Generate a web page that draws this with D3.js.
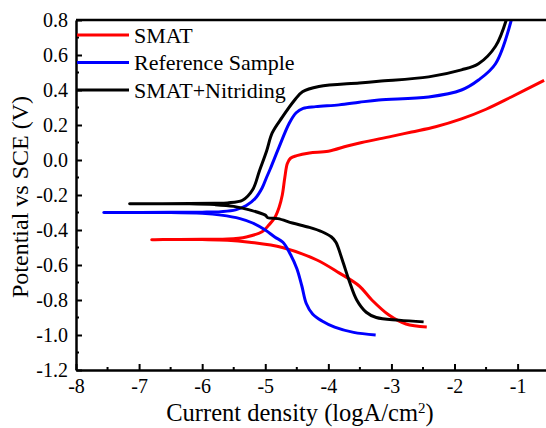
<!DOCTYPE html>
<html lang="en">
	<head>
		<meta charset="utf-8">
		<title>Polarization curves</title>
		<script type="text/javascript" src="https://cdn.jsdelivr.net/npm/d3@7"></script>
		<style type="text/css">
			html, body {
				margin: 0;
				padding: 0;
				background-color: white;
			}
			text {
				font-family: "Liberation Serif", "Times New Roman", serif;
			}
		</style>
	</head>
	<body>
		<script type="text/javascript">

			//Series names and colours
			var seriesNames = ["SMAT", "Reference Sample", "SMAT+Nitriding"];
			var seriesColors = ["rgb(255,0,0)", "rgb(0,0,255)", "rgb(0,0,0)"];

			//Each curve: [logI, E], cathodic end -> Ecorr -> anodic end
			var smat = [
				[-2.44,-0.954],[-2.77,-0.937],[-3.04,-0.886],[-3.31,-0.80],[-3.51,-0.72],[-3.83,-0.645],
				[-4.19,-0.57],[-4.73,-0.50],[-5.25,-0.47],[-5.6,-0.458],[-6.0,-0.455],[-6.8,-0.455],
				[-6.0,-0.453],[-5.6,-0.452],[-5.3,-0.44],[-5.05,-0.41],[-4.94,-0.37],[-4.85,-0.33],
				[-4.78,-0.27],[-4.73,-0.2],[-4.69,-0.1],[-4.65,-0.02],[-4.6,0.01],[-4.5,0.025],
				[-4.3,0.04],[-4.0,0.05],[-3.7,0.08],[-3.47,0.10],[-3.0,0.135],[-2.68,0.16],
				[-2.3,0.19],[-1.89,0.235],[-1.5,0.29],[-1.1,0.36],[-0.58,0.455]
			];
			var reference = [
				[-3.25,-1.0],[-3.6,-0.985],[-3.9,-0.955],[-4.1,-0.92],[-4.25,-0.88],[-4.35,-0.82],
				[-4.42,-0.72],[-4.5,-0.62],[-4.6,-0.54],[-4.72,-0.47],[-4.85,-0.44],[-5.0,-0.40],
				[-5.2,-0.36],[-5.4,-0.335],[-5.7,-0.315],[-6.0,-0.305],[-6.5,-0.30],[-7.56,-0.30],
				[-6.5,-0.299],[-6.0,-0.298],[-5.7,-0.295],[-5.47,-0.285],[-5.3,-0.26],[-5.16,-0.22],
				[-5.05,-0.16],[-4.98,-0.10],[-4.92,-0.05],[-4.78,0.075],[-4.62,0.21],[-4.51,0.27],
				[-4.4,0.295],[-4.2,0.305],[-3.83,0.315],[-3.51,0.33],[-3.2,0.343],[-2.41,0.36],
				[-1.89,0.40],[-1.62,0.457],[-1.35,0.55],[-1.1,0.8]
			];
			var nitriding = [
				[-2.49,-0.925],[-2.88,-0.915],[-3.24,-0.90],[-3.4,-0.87],[-3.55,-0.80],[-3.67,-0.69],
				[-3.78,-0.57],[-3.88,-0.47],[-3.95,-0.44],[-4.1,-0.41],[-4.3,-0.385],[-4.57,-0.36],
				[-4.8,-0.335],[-4.96,-0.33],[-5.0,-0.315],[-5.25,-0.285],[-5.5,-0.265],[-5.8,-0.255],
				[-6.2,-0.25],[-7.15,-0.25],[-6.2,-0.249],[-5.8,-0.247],[-5.6,-0.245],[-5.36,-0.23],
				[-5.2,-0.17],[-5.09,-0.06],[-4.98,0.05],[-4.89,0.155],[-4.73,0.245],[-4.54,0.34],
				[-4.41,0.39],[-4.15,0.42],[-3.51,0.44],[-3.2,0.45],[-2.41,0.475],[-1.89,0.515],
				[-1.62,0.55],[-1.35,0.65],[-1.18,0.8]
			];
			var seriesData = [smat, reference, nitriding];

			//Tick values
			var xTicks = [-8, -7, -6, -5, -4, -3, -2, -1];
			var yTicks = [-1.2, -1.0, -0.8, -0.6, -0.4, -0.2, 0.0, 0.2, 0.4, 0.6, 0.8];

			//Width and height, plot box
			var w = 546;
			var h = 428;
			var pLeft = 76, pTop = 20, pBottom = 370, pRight = 546;

			var x = d3.scaleLinear().domain([-8, -0.55]).range([pLeft, pRight]);
			var y = d3.scaleLinear().domain([-1.2, 0.8]).range([pBottom, pTop]);

			var svg = d3.select("body")
						.append("svg")
						.attr("width", w)
						.attr("height", h);

			svg.append("clipPath")
				.attr("id", "plot")
				.append("rect")
				.attr("x", pLeft)
				.attr("y", pTop)
				.attr("width", pRight - pLeft)
				.attr("height", pBottom - pTop);

			//Curves
			var line = d3.line()
						 .x(function(d) { return x(d[0]); })
						 .y(function(d) { return y(d[1]); })
						 .curve(d3.curveCatmullRom.alpha(0.5));

			svg.append("g")
				.attr("clip-path", "url(#plot)")
				.selectAll("path")
				.data(seriesData)
				.enter()
				.append("path")
				.attr("d", line)
				.attr("fill", "none")
				.attr("stroke", function(d, i) { return seriesColors[i]; })
				.attr("stroke-width", 3)
				.attr("stroke-linejoin", "round");

			//Minor ticks
			var minorX = d3.range(-7.5, -0.5, 1);
			var minorY = d3.range(-1.1, 0.8, 0.2);
			svg.selectAll("line.mx")
				.data(minorX)
				.enter()
				.append("line")
				.attr("x1", function(d) { return x(d); })
				.attr("x2", function(d) { return x(d); })
				.attr("y1", pBottom)
				.attr("y2", pBottom - 3)
				.attr("stroke", "black")
				.attr("stroke-width", 2);
			svg.selectAll("line.my")
				.data(minorY)
				.enter()
				.append("line")
				.attr("y1", function(d) { return y(d); })
				.attr("y2", function(d) { return y(d); })
				.attr("x1", pLeft)
				.attr("x2", pLeft + 3)
				.attr("stroke", "black")
				.attr("stroke-width", 2);

			//Axes
			svg.append("g")
				.attr("transform", "translate(0," + pBottom + ")")
				.call(d3.axisBottom(x)
					.tickValues(xTicks)
					.tickFormat(function(d) { return String(d); })
					.tickSizeInner(-6)
					.tickSizeOuter(0)
					.tickPadding(9));

			svg.append("g")
				.attr("transform", "translate(" + pLeft + ",0)")
				.call(d3.axisLeft(y)
					.tickValues(yTicks)
					.tickFormat(function(d) { return d.toFixed(1); })
					.tickSizeInner(-6)
					.tickSizeOuter(0)
					.tickPadding(8));

			svg.selectAll(".tick text")
				.attr("font-family", "Liberation Serif")
				.attr("font-size", "20px")
				.attr("fill", "black");
			svg.selectAll(".tick line").attr("stroke-width", 2);
			svg.selectAll(".domain").attr("stroke-width", 2.5);

			//Top frame line
			svg.append("line")
				.attr("x1", pLeft)
				.attr("x2", pRight)
				.attr("y1", pTop)
				.attr("y2", pTop)
				.attr("stroke", "black")
				.attr("stroke-width", 2.5);

			//Axis titles
			var xTitle = svg.append("text")
				.attr("x", 300)
				.attr("y", 421)
				.attr("text-anchor", "middle")
				.attr("font-size", "24.5px");
			xTitle.append("tspan").text("Current density (logA/cm");
			xTitle.append("tspan").attr("baseline-shift", "super").attr("font-size", "15px").text("2");
			xTitle.append("tspan").text(")");

			svg.append("text")
				.attr("transform", "translate(28,197) rotate(-90)")
				.attr("text-anchor", "middle")
				.attr("font-size", "24px")
				.text("Potential vs SCE (V)");

			//Legend
			var legend = svg.selectAll("g.legend")
				.data(seriesNames)
				.enter()
				.append("g")
				.attr("class", "legend")
				.attr("transform", function(d, i) { return "translate(" + pLeft + "," + (35 + i * 27.5) + ")"; });

			legend.append("line")
				.attr("x1", 1)
				.attr("x2", 53)
				.attr("stroke", function(d, i) { return seriesColors[i]; })
				.attr("stroke-width", 3);

			legend.append("text")
				.attr("x", 58)
				.attr("y", 7.5)
				.attr("font-size", "22px")
				.text(function(d) { return d; });

		</script>
	</body>
</html>
